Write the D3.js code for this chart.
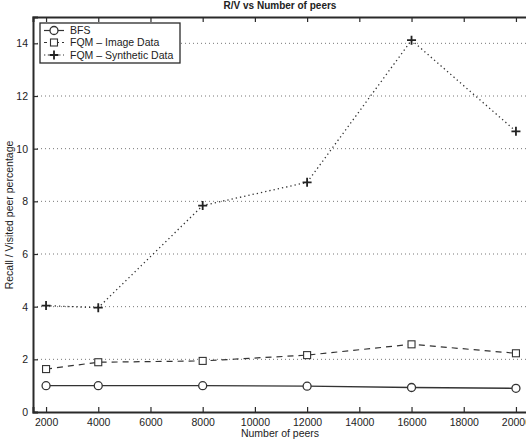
<!DOCTYPE html>
<html>
<head>
<meta charset="utf-8">
<script src="https://cdn.jsdelivr.net/npm/d3@7/dist/d3.min.js"></script>
<style>
  html, body { margin: 0; padding: 0; background: #fff; overflow: hidden; }
  svg { display: block; }
  text { font-family: "Liberation Sans", Arial, Helvetica, sans-serif; fill: #222; }
</style>
</head>
<body>
<svg id="chart" width="526" height="442"></svg>
<script>
// Number of peers in the network
const peers = [2000, 4000, 8000, 12000, 16000, 20000];

// Recall / visited-peer percentage for each search method
const bfs = [1.0, 1.0, 1.0, 0.98, 0.93, 0.9];
const fqmImage = [1.63, 1.89, 1.94, 2.16, 2.57, 2.23];
const fqmSynthetic = [4.04, 3.96, 7.84, 8.72, 14.12, 10.66];

const seriesNames = ["BFS", "FQM \u2013 Image Data", "FQM \u2013 Synthetic Data"];
const xTicks = [2000, 4000, 6000, 8000, 10000, 12000, 14000, 16000, 18000, 20000];
const yTicks = [0, 2, 4, 6, 8, 10, 12, 14];

const title = "R/V vs Number of peers";
const xTitle = "Number of peers";
const yTitle = "Recall / Visited peer percentage";

const svg = d3.select("#chart");
const ink = "#2a2a2a";

const x = d3.scaleLinear().domain([1500, 20500]).range([33, 529]);
const y = d3.scaleLinear().domain([0, 15]).range([412, 17]);

// horizontal dotted grid
svg.append("g")
  .selectAll("line")
  .data(yTicks.filter(d => d > 0))
  .join("line")
  .attr("x1", x.range()[0]).attr("x2", x.range()[1])
  .attr("y1", d => y(d)).attr("y2", d => y(d))
  .attr("stroke", "#777").attr("stroke-width", 1)
  .attr("stroke-dasharray", "1,3");

// axes with inward ticks (bottom/top, left)
const xAxis = svg.append("g")
  .attr("transform", `translate(0,${y(0)})`)
  .call(d3.axisBottom(x).tickValues(xTicks).tickSize(-5).tickPadding(8).tickFormat(d3.format("d")));
const xAxisTop = svg.append("g")
  .attr("transform", `translate(0,${y(15)})`)
  .call(d3.axisTop(x).tickValues(xTicks).tickSize(-5).tickFormat(""));
const yAxis = svg.append("g")
  .attr("transform", `translate(${x(1500)},0)`)
  .call(d3.axisLeft(y).tickValues(yTicks).tickSize(-5).tickPadding(5).tickFormat(d3.format("d")));

[xAxis, xAxisTop, yAxis].forEach(g => {
  g.select(".domain").attr("stroke", ink).attr("stroke-width", 2);
  g.selectAll(".tick line").attr("stroke", ink).attr("stroke-width", 1.2);
  g.selectAll(".tick text").attr("font-size", 10.5).attr("fill", "#222")
    .attr("font-family", "Liberation Sans, Arial, sans-serif");
});
xAxis.selectAll(".tick text").attr("dy", "0.55em");

// series lines
const line = d3.line().x((d, i) => x(peers[i])).y(d => y(d));

svg.append("path").datum(bfs).attr("d", line)
  .attr("fill", "none").attr("stroke", "#333").attr("stroke-width", 1.3);
svg.append("path").datum(fqmImage).attr("d", line)
  .attr("fill", "none").attr("stroke", "#333").attr("stroke-width", 1.2)
  .attr("stroke-dasharray", "6,5");
svg.append("path").datum(fqmSynthetic).attr("d", line)
  .attr("fill", "none").attr("stroke", "#333").attr("stroke-width", 1.3)
  .attr("stroke-dasharray", "1.3,3");

// markers
function circleMark(g, cx, cy) {
  g.append("circle").attr("cx", cx).attr("cy", cy).attr("r", 4)
    .attr("fill", "#fff").attr("stroke", "#333").attr("stroke-width", 1.3);
}
function squareMark(g, cx, cy) {
  g.append("rect").attr("x", cx - 3.5).attr("y", cy - 3.5).attr("width", 7).attr("height", 7)
    .attr("fill", "#fff").attr("stroke", "#333").attr("stroke-width", 1.1);
}
function plusMark(g, cx, cy) {
  g.append("path").attr("d", `M${cx - 4.5},${cy}H${cx + 4.5}M${cx},${cy - 4.5}V${cy + 4.5}`)
    .attr("stroke", "#222").attr("stroke-width", 1.8);
}
const marks = svg.append("g");
bfs.forEach((v, i) => circleMark(marks, x(peers[i]), y(v)));
fqmImage.forEach((v, i) => squareMark(marks, x(peers[i]), y(v)));
fqmSynthetic.forEach((v, i) => plusMark(marks, x(peers[i]), y(v)));

// legend
const lg = svg.append("g");
lg.append("rect").attr("x", 40).attr("y", 23).attr("width", 140).attr("height", 40)
  .attr("fill", "#fff").attr("stroke", ink).attr("stroke-width", 1.3);
const rows = [30.5, 42.5, 55];
const symbols = [circleMark, squareMark, plusMark];
const dashes = [null, "3,3", "1.3,2.5"];
rows.forEach((ry, i) => {
  lg.append("line").attr("x1", 44).attr("x2", 64).attr("y1", ry).attr("y2", ry)
    .attr("stroke", "#333").attr("stroke-width", 1.2)
    .attr("stroke-dasharray", dashes[i]);
  symbols[i](lg, 54, ry);
  lg.append("text").attr("x", 70).attr("y", ry).attr("dy", "0.35em")
    .attr("font-size", 10.5).text(seriesNames[i]);
});

// titles
svg.append("text").attr("x", 280).attr("y", 9).attr("text-anchor", "middle")
  .attr("font-size", 10).attr("font-weight", "bold").text(title);
svg.append("text").attr("x", 280).attr("y", 437).attr("text-anchor", "middle")
  .attr("font-size", 10.5).text(xTitle);
svg.append("text").attr("transform", "translate(13,215) rotate(-90)")
  .attr("text-anchor", "middle").attr("font-size", 10.5).text(yTitle);
</script>
</body>
</html>
